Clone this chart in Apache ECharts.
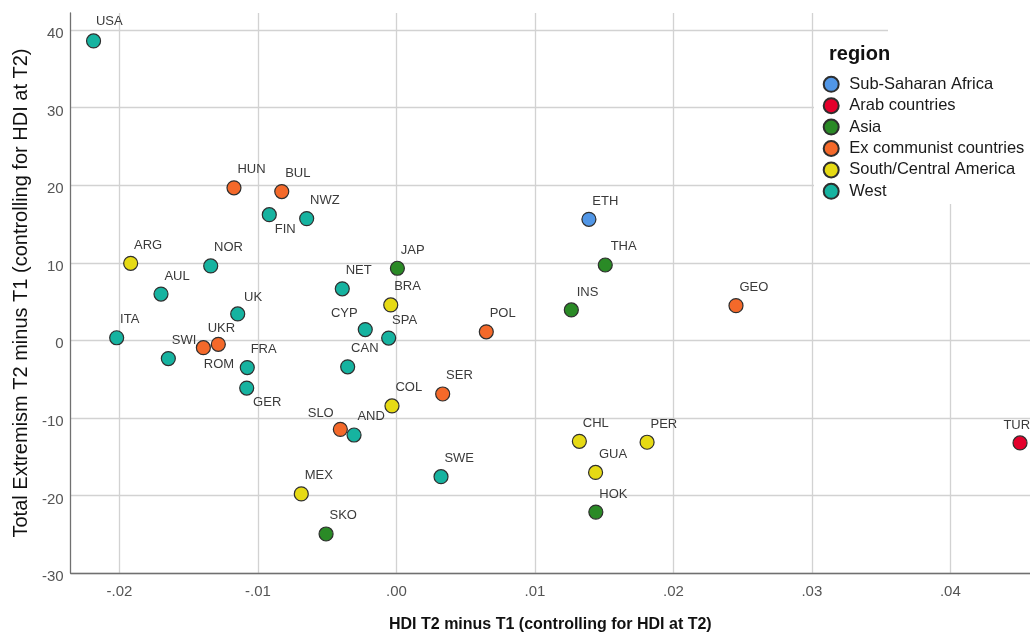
<!DOCTYPE html>
<html><head><meta charset="utf-8">
<script src="https://cdn.jsdelivr.net/npm/echarts@6/dist/echarts.min.js"></script>
<style>html,body{margin:0;padding:0;background:#fff}#c{width:1030px;height:638px}</style>
</head><body><div id="c"></div>
<script>
const regionNames = ['Sub-Saharan Africa','Arab countries','Asia','Ex communist countries','South/Central America','West'];
const regionColors = ['#5196e6','#e4002b','#2a8a26','#f4692a','#e6da14','#16b3a0'];

const countries = ['USA','HUN','BUL','FIN','NWZ','ARG','NOR','AUL','UK','JAP','NET','BRA','ITA','SWI','UKR','ROM','FRA','GER','CYP','SPA','CAN','POL','SER','COL','SLO','AND','SWE','MEX','SKO','ETH','THA','INS','GEO','CHL','PER','GUA','HOK','TUR'];
const hdiChange = [-0.02187,-0.01173,-0.00828,-0.00918,-0.00648,-0.01919,-0.01341,-0.01700,-0.01146,0.00007,-0.00391,-0.00041,-0.02020,-0.01647,-0.01286,-0.01394,-0.01077,-0.01081,-0.00225,-0.00056,-0.00352,0.00649,0.00334,-0.00032,-0.00405,-0.00306,0.00322,-0.00687,-0.00508,0.01390,0.01508,0.01263,0.02452,0.01321,0.01810,0.01438,0.01440,0.04503];
const extremismChange = [38.6,19.66,19.18,16.2,15.69,9.93,9.59,5.96,3.4,9.29,6.64,4.56,0.33,-2.35,-0.52,-0.95,-3.51,-6.16,1.39,0.29,-3.42,1.1,-6.92,-8.46,-11.48,-12.21,-17.58,-19.8,-24.97,15.6,9.71,3.92,4.47,-13.02,-13.14,-17.03,-22.15,-13.23];
const countryRegion = ['West','Ex communist countries','Ex communist countries','West','West','South/Central America','West','West','West','Asia','West','South/Central America','West','West','Ex communist countries','Ex communist countries','West','West','West','West','West','Ex communist countries','Ex communist countries','South/Central America','Ex communist countries','West','West','South/Central America','Asia','Sub-Saharan Africa','Asia','Asia','Ex communist countries','South/Central America','South/Central America','South/Central America','Asia','Arab countries'];

const xTicks = [-0.02,-0.01,0,0.01,0.02,0.03,0.04];
const yTicks = [-30,-20,-10,0,10,20,30,40];

// label placement (offset from point centre, alignment)
const labelDefault = [4,-17.5,'left'];
const labelPlacement = {
  FIN:[6,15,'left'], ROM:[1,17,'left'], GER:[7,15,'left'],
  CYP:[-7,-16,'right'], SLO:[-6,-15,'right'], TUR:[-16,-17,'left'], UKR:[-10,-15,'left'],
  THA:[6,-17.5,'left'], INS:[6,-17,'left'], UK:[7,-16,'left'], USA:[3,-19,'left']
};

const FONT = '"Liberation Sans", Arial, sans-serif';
const SYM = 14;

const series = regionNames.map((r, ri) => {
  const data = [];
  countries.forEach((c, i) => {
    if (countryRegion[i] !== r) return;
    const p = labelPlacement[c] || labelDefault;
    data.push({
      name: c,
      value: [hdiChange[i], extremismChange[i]],
      label: { position: [p[0] + SYM/2, p[1] + SYM/2], align: p[2] }
    });
  });
  return {
    name: r, type: 'scatter', symbol: 'circle', symbolSize: SYM, z: 3,
    itemStyle: { color: regionColors[ri], borderColor: '#2e2e2e', borderWidth: 1.2, opacity: 1 },
    label: { show: true, formatter: '{b}', fontSize: 13, fontFamily: FONT, color: '#3a3a3a', verticalAlign: 'middle' },
    emphasis: { disabled: true },
    data
  };
});

const fmtX = v => (v < 0 ? '-' : '') + Math.abs(v).toFixed(2).replace(/^0/, '');

const chart = echarts.init(document.getElementById('c'), null, { renderer: 'canvas' });
chart.setOption({
  animation: false,
  backgroundColor: '#ffffff',
  textStyle: { fontFamily: FONT },
  grid: { left: 70.7, right: 0, top: 13, bottom: 60.3, containLabel: false },
  xAxis: {
    type: 'value', min: -0.02352, max: 0.04575,
    name: 'HDI T2 minus T1 (controlling for HDI at T2)', nameLocation: 'middle', nameGap: 44,
    nameTextStyle: { fontSize: 16, fontWeight: 'bold', color: '#111', fontFamily: FONT },
    axisLine: { show: true, onZero: false, lineStyle: { color: '#707070', width: 1.3 } },
    axisTick: { show: false, customValues: xTicks },
    axisLabel: { customValues: xTicks, formatter: fmtX, fontSize: 15, color: '#555', margin: 11, fontFamily: FONT },
    splitLine: { show: true, lineStyle: { color: '#d2d2d2', width: 1.3 } }
  },
  yAxis: {
    type: 'value', min: -30, max: 42.2,
    name: 'Total Extremism T2 minus T1 (controlling for HDI at T2)', nameLocation: 'middle', nameGap: 38,
    nameTextStyle: { fontSize: 20, color: '#111', fontFamily: FONT },
    axisLine: { show: true, onZero: false, lineStyle: { color: '#707070', width: 1.3 } },
    axisTick: { show: false, customValues: yTicks },
    axisLabel: { customValues: yTicks, fontSize: 15, color: '#555', margin: 7, verticalAlign: 'top', lineHeight: 8, fontFamily: FONT },
    splitLine: { show: true, lineStyle: { color: '#d2d2d2', width: 1.3 } }
  },
  legend: {
    orient: 'vertical', left: 822.7, top: 75.8, padding: 0,
    icon: 'circle', itemWidth: 26, itemHeight: 15, itemGap: 4.4,
    textStyle: { fontSize: 16.5, lineHeight: 15, color: '#1a1a1a', fontFamily: FONT },
    selectedMode: false,
    data: regionNames
  },
  graphic: [
    { type: 'rect', z: 1, shape: { x: 814, y: 40, width: 216, height: 164 }, style: { fill: '#ffffff' } },
    { type: 'rect', z: 1, shape: { x: 888, y: 0, width: 142, height: 41 }, style: { fill: '#ffffff' } },
    { type: 'text', z: 5, style: { x: 829, y: 54, text: 'region', font: 'bold 20px ' + FONT, fill: '#111', verticalAlign: 'middle' } }
  ],
  series
});
</script>
</body></html>
